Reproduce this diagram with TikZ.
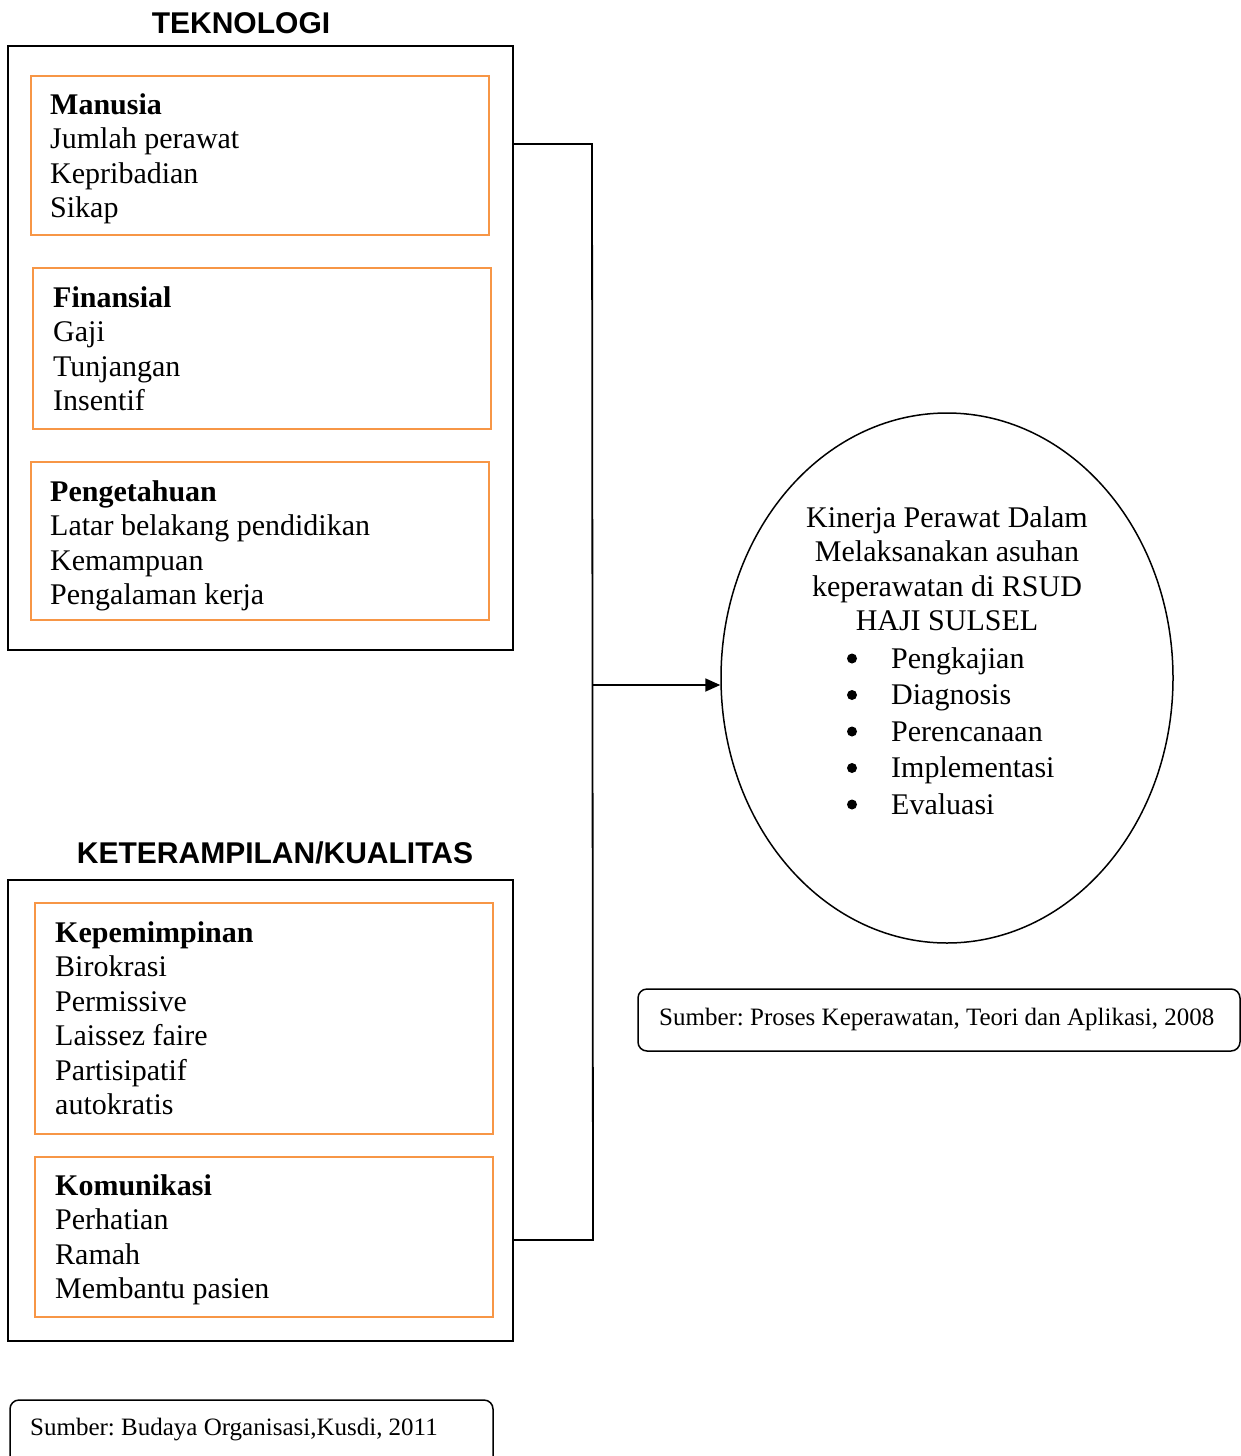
\documentclass[tikz,border=0pt]{standalone}
\usepackage{fontspec}
\setmainfont{Liberation Serif}
\newfontfamily\headfont{Liberation Sans}
\usetikzlibrary{shapes.geometric,arrows.meta}
\definecolor{boxorange}{HTML}{F79646}
\frenchspacing
\begin{document}
\begin{tikzpicture}[x=1pt,y=-1pt,
 outerbox/.style={draw,line width=1.8pt,inner sep=0pt,minimum width=505pt},
 orangebox/.style={draw=boxorange,line width=1.5pt,inner sep=0pt,minimum width=458pt},
 body/.style={font=\fontsize{30}{34.5}\selectfont,align=left,inner sep=0pt,anchor=base west},
 titletext/.style={font=\headfont\bfseries\fontsize{30}{36}\selectfont,inner sep=0pt,anchor=base},
 srctext/.style={font=\fontsize{25}{30}\selectfont,inner sep=0pt,anchor=base west},
 srcbox/.style={draw,line width=1.5pt,rounded corners=9pt,inner sep=0pt},
 conn/.style={line width=1.8pt}]
\useasboundingbox (0,0) rectangle (1241,1456);

% titles
\node[titletext] (t1) at (241,33) {TEKNOLOGI};
\node[titletext] (t2) at (275,863) {KETERAMPILAN/KUALITAS};

% outer boxes
\node[outerbox,minimum height=604pt] (box1) at (260.5,348) {};
\node[outerbox,minimum height=461pt] (box2) at (260.5,1110.5) {};

% orange boxes
\node[orangebox,minimum height=159pt] (om) at (260,155.5) {};
\node[orangebox,minimum height=161pt] (of) at (262,348.5) {};
\node[orangebox,minimum height=158pt] (op) at (260,541) {};
\node[orangebox,minimum height=231pt] (ok) at (264,1018.5) {};
\node[orangebox,minimum height=160pt] (oc) at (264,1237) {};

% texts (base anchor = baseline of last line)
\node[body] (tm) at (50,217.5) {\textbf{Manusia}\\Jumlah perawat\\Kepribadian\\Sikap};
\node[body] (tf) at (53,410.5) {\textbf{Finansial}\\Gaji\\Tunjangan\\Insentif};
\node[body] (tp) at (50,604.5) {\textbf{Pengetahuan}\\Latar belakang pendidikan\\Kemampuan\\Pengalaman kerja};
\node[body] (tk) at (55,1114.5) {\textbf{Kepemimpinan}\\Birokrasi\\Permissive\\Laissez faire\\Partisipatif\\autokratis};
\node[body] (tc) at (55,1298.5) {\textbf{Komunikasi}\\Perhatian\\Ramah\\Membantu pasien};

% ellipse
\node[draw,ellipse,line width=1.5pt,minimum width=452pt,minimum height=530pt,inner sep=0pt] (ell) at (947,678) {};
\node[font=\fontsize{30}{34.5}\selectfont,align=center,inner sep=0pt,anchor=base] (et) at (947,630.5)
  {Kinerja Perawat Dalam\\Melaksanakan asuhan\\keperawatan di RSUD\\HAJI SULSEL};
\foreach \i/\w in {0/Pengkajian,1/Diagnosis,2/Perencanaan,3/Implementasi,4/Evaluasi}{
  \node[circle,fill,inner sep=0pt,minimum size=10pt] (b\i) at (852,{658.5+36.5*\i}) {};
  \node[body] (w\i) at (891,{668+36.5*\i}) {\w};
}

% connector
\coordinate (j1) at (592,144);
\coordinate (j2) at (593,1240);
\coordinate (jm) at (593,685);
\draw[conn] (box1.east |- j1) -- (j1) -- (j2) -- (box2.east |- j2);
\draw[conn,-{Triangle[length=15pt,width=13pt]}] (jm) -- (jm -| ell.west);

% sources
\node[srcbox,minimum width=602pt,minimum height=62pt] (s1) at (939,1020) {};
\node[srctext] (s1t) at (659,1025) {Sumber: Proses Keperawatan, Teori dan Aplikasi, 2008};
\node[srcbox,minimum width=483pt,minimum height=90pt] (s2) at (251.5,1445) {};
\node[srctext] (s2t) at (30,1435) {Sumber: Budaya Organisasi,Kusdi, 2011};
\end{tikzpicture}
\end{document}
